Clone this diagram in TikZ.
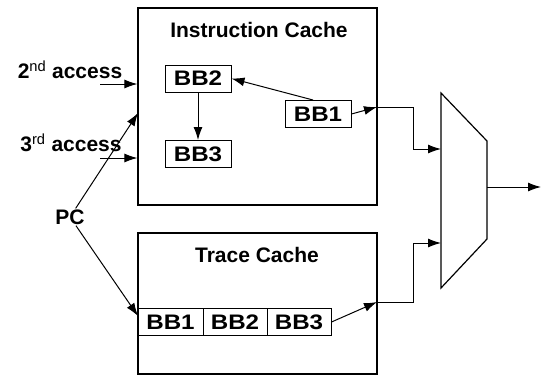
\documentclass[tikz,border=0pt]{standalone}
\usepackage{fontspec}
\setmainfont{Liberation Sans}
\newfontfamily\bbfont{Liberation Sans}[FakeStretch=1.15]
\usetikzlibrary{arrows.meta}

\begin{document}
\begin{tikzpicture}[x=1pt,y=-1pt]
			\tikzstyle{cache} = [draw, line width=1.2pt, inner sep=0pt]
			\tikzstyle{bb} = [
				draw, line width=1pt, inner sep=0pt,
				minimum width=66pt, minimum height=27pt,
				font=\bbfont\bfseries\fontsize{21}{24}\selectfont
			]
			\tikzstyle{label} = [font=\bfseries\fontsize{21}{24}\selectfont, inner sep=1pt]
			\tikzstyle{line}=[-{Latex[length=13pt,width=9pt]},draw=black,line width=1pt]
			\useasboundingbox (0,0) rectangle (541,378);
			% caches
			\node[cache, minimum width=239pt, minimum height=197pt] (ic) at (257.5,106.5) {};
			\node[cache, minimum width=239pt, minimum height=141pt] (tc) at (257.5,303.5) {};
			\node[label] (ictitle) at (259,30) {Instruction Cache};
			\node[label] (tctitle) at (257,255) {Trace Cache};
			\node[bb] (bb2) at (198,78.5) {BB2};
			\node[bb] (bb3) at (198,154) {BB3};
			\node[bb] (bb1) at (318,114) {BB1};
			\node[bb, minimum width=65pt] (tb1) at (170.5,322) {BB1};
			\node[bb, minimum width=64pt] (tb2) at (235,322) {BB2};
			\node[bb, minimum width=64pt] (tb3) at (299,322) {BB3};
			% inputs
			\node[label] (acc2) at (70,70) {2\textsuperscript{\mdseries nd} access};
			\node[label] (acc3) at (71,143) {3\textsuperscript{\mdseries rd} access};
			\node[label] (pc) at (70,217) {PC};
			\coordinate (a2) at (100,84);
			\coordinate (a3) at (100,158);
			\coordinate (icpc) at (138,113);
			\coordinate (tcpc) at (138,316);
			% mux
			\coordinate (m1) at (441,93);
			\coordinate (m2) at (487,141);
			\coordinate (m3) at (487,239);
			\coordinate (m4) at (441,288);
			\coordinate (min1) at (441,149);
			\coordinate (min2) at (441,243);
			\coordinate (mout) at (487,187);
			\coordinate (out) at (541,187);
			\coordinate (icout) at (377,107);
			\coordinate (tcout) at (377,302);
			\draw[line width=1.2pt] (m1) -- (m2) -- (m3) -- (m4) -- cycle;
			\draw (a2) to (a2 -| ic.west) [line];
			\draw (a3) to (a3 -| ic.west) [line];
			\draw (pc) to (icpc) [line];
			\draw (pc) to (tcpc) [line];
			\draw ([xshift=-5pt]bb1.north) to (bb2.east) [line];
			\draw (bb2) to (bb3) [line];
			\draw (bb1.east) to (icout) [line];
			\draw (tb3.east) to (tcout) [line];
			\draw (icout) -- (413,107) |- (min1) [line];
			\draw (tcout) -- (413,302) |- (min2) [line];
			\draw (mout) to (out) [line];
		\end{tikzpicture}
\end{document}
